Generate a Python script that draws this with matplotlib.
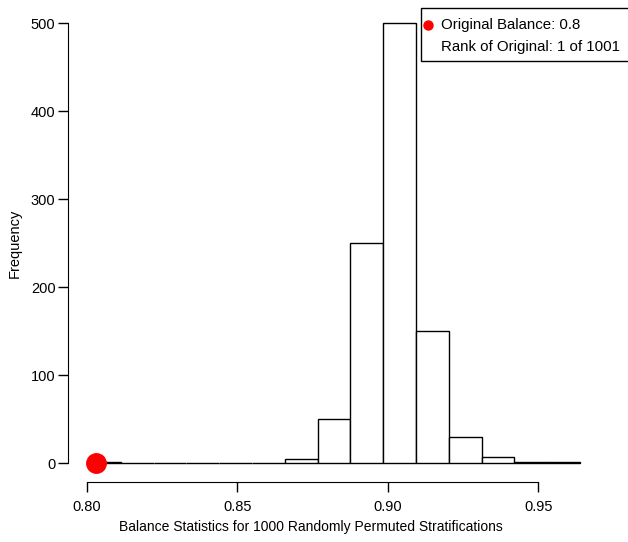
import numpy as np
import matplotlib
matplotlib.use("Agg")
import matplotlib.pyplot as plt
from matplotlib.patches import Rectangle
from matplotlib.lines import Line2D

plt.rcParams['font.family'] = ['Liberation Sans', 'DejaVu Sans']

# Histogram of balance statistics for the permuted stratifications
bin_start = 0.8003
bin_width = 0.0109
counts = [1, 0, 0, 0, 0, 0, 5, 50, 250, 500, 150, 30, 7, 2, 1]
edges = bin_start + bin_width * np.arange(len(counts) + 1)

original_balance = 0.803
original_label = "Original Balance: 0.8"
rank_label = "Rank of Original: 1 of 1001"

x_ticks = [0.80, 0.85, 0.90, 0.95]
y_ticks = [0, 100, 200, 300, 400, 500]

W, H = 628, 542
fig = plt.figure(figsize=(W / 100, H / 100), dpi=100)
ax = fig.add_axes([68 / W, (H - 482) / H, (627 - 68) / W, (482 - 8) / H])


def px(x, y):
    # pixel position (from top-left) -> figure fraction
    return x / W, 1 - y / H


ax.bar(edges[:-1], counts, width=np.diff(edges), align='edge',
       facecolor='white', edgecolor='black', linewidth=1.0)
ax.plot([original_balance], [0], 'o', color='red', markersize=14,
        clip_on=False, zorder=5)

ax.set_xlim(0.80 - 19 / 3010, 0.80 + 540 / 3010)
ax.set_ylim(-21.3, 517.6)

for side in ('top', 'right'):
    ax.spines[side].set_visible(False)
ax.spines['left'].set_bounds(0, 500)
ax.spines['bottom'].set_bounds(0.80, 0.95)
ax.set_xticks(x_ticks)
ax.set_xticklabels(['%.2f' % v for v in x_ticks])
ax.set_yticks(y_ticks)
ax.tick_params(direction='out', length=7, width=1, labelsize=10.5)
ax.tick_params(axis='x', pad=6)
ax.tick_params(axis='y', pad=2)

fig.text(*px(311, 527), "Balance Statistics for 1000 Randomly Permuted Stratifications",
         fontsize=10, ha='center', va='center')
fig.text(*px(15, 243), "Frequency", fontsize=10.5, ha='center', va='center',
         rotation=90)

# legend box, R style
x0, y0 = px(421, 61)
x1, y1 = px(660, 8)
fig.patches.append(Rectangle((x0, y0), x1 - x0, y1 - y0, transform=fig.transFigure,
                             facecolor='white', edgecolor='black', linewidth=1.0,
                             zorder=10))
fig.lines.append(Line2D([px(428, 25)[0]], [px(428, 25)[1]], marker='o',
                        color='red', markersize=6.5, transform=fig.transFigure,
                        zorder=11))
fig.text(*px(441, 25), original_label, fontsize=10.8, va='center', zorder=12)
fig.text(*px(441, 46.5), rank_label, fontsize=10.8, va='center', zorder=12)

fig.savefig("out.png", dpi=100)
